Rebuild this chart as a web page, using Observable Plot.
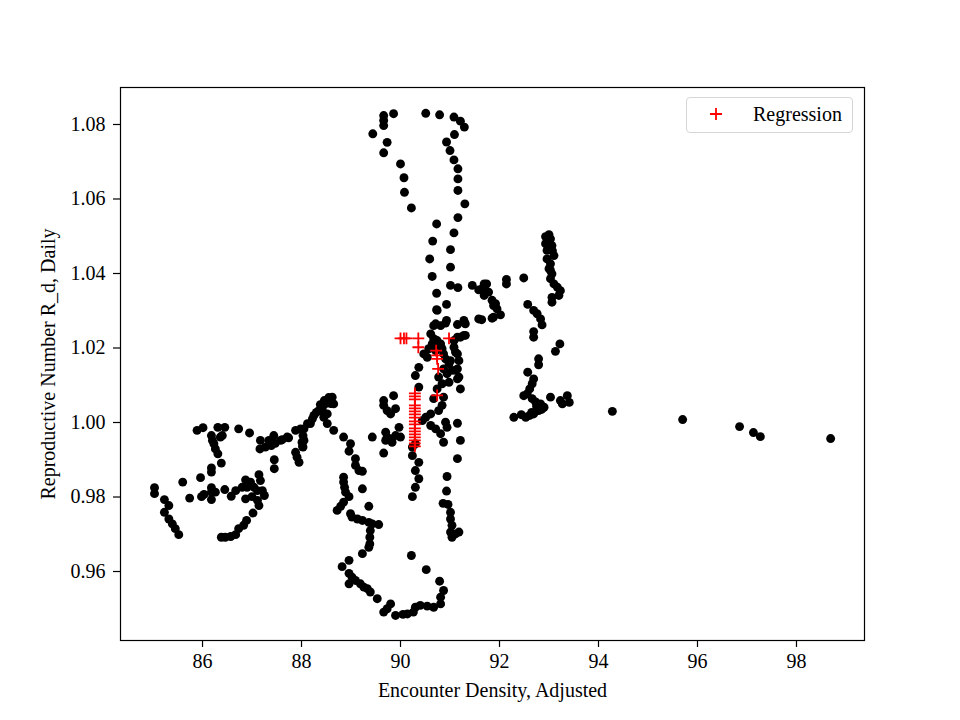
<!DOCTYPE html>
<html>
<head>
<meta charset="utf-8">
<script src="https://cdn.jsdelivr.net/npm/d3@7"></script>
<script src="https://cdn.jsdelivr.net/npm/@observablehq/plot@0.6"></script>
<style>
  html, body { margin: 0; padding: 0; background: #fff; }
  #wrap { position: relative; width: 960px; height: 720px; font-family: "Liberation Serif", "DejaVu Serif", serif; }
  #legend { position: absolute; left: 686px; top: 97px; width: 167px; height: 36px; border: 1px solid #d6d6d6; border-radius: 4px; background: rgba(255,255,255,0.8); box-sizing: border-box; font-size: 20px; color: #000; }
  #legend .lb { position: absolute; left: 66px; top: 3px; line-height: 26px; }
  #legend svg { position: absolute; left: 22px; top: 9px; }
</style>
</head>
<body>
<div id="wrap"><div id="chart"></div>
<div id="legend"><svg width="14" height="14"><path d="M1,7H13M7,1V13" stroke="#ff0000" stroke-width="1.8" fill="none"/></svg><span class="lb">Regression</span></div>
</div>
<script>
const xLabel = "Encounter Density, Adjusted";
const yLabel = "Reproductive Number R_d, Daily";
const xTicks = [86, 88, 90, 92, 94, 96, 98];
const yTicks = [0.96, 0.98, 1.00, 1.02, 1.04, 1.06, 1.08];

// [encounter density, R_d]
const leftLoop = [
  [85.89,0.9979],[86.01,0.9986],[86.31,0.9987],[86.45,0.9987],[86.73,0.9983],[86.95,0.9972],
  [86.18,0.9965],[86.20,0.9952],[86.23,0.9943],[86.26,0.9929],[86.31,0.9916],[86.36,0.9961],[86.40,0.9965],
  [86.38,0.9891],[86.18,0.9878],[86.18,0.9867],[85.96,0.9852],[85.60,0.9840],[85.03,0.9825],[85.03,0.9809],
  [85.23,0.9793],[85.32,0.9777],[85.23,0.9759],[85.32,0.9741],[85.39,0.9728],[85.45,0.9715],[85.52,0.9699],
  [85.74,0.9797],[85.98,0.9801],[86.03,0.9807],[86.18,0.9825],[86.18,0.9813],[86.26,0.9813],[86.18,0.9793],
  [86.45,0.9820],[86.58,0.9802],[86.67,0.9817],[86.87,0.9846],[86.97,0.9840],[87.14,0.9860],[87.17,0.9844],
  [86.80,0.9826],[86.90,0.9826],[87.04,0.9826],[87.11,0.9817],[87.21,0.9817],[87.25,0.9804],[87.00,0.9801],
  [86.87,0.9795],[87.11,0.9791],[87.14,0.9777],[87.02,0.9757],[86.89,0.9737],[86.83,0.9724],[86.73,0.9715],
  [86.67,0.9699],[86.57,0.9694],[86.46,0.9692],[86.38,0.9692],
  [87.44,0.9965],[87.34,0.9952],[87.17,0.9952],[87.16,0.9929],[87.27,0.9934],[87.39,0.9938],[87.47,0.9944],
  [87.58,0.9952],[87.74,0.9959],[87.88,0.9979],[87.98,0.9983],[88.03,0.9965],[88.05,0.9952],[88.02,0.9936],
  [87.88,0.9920],[87.91,0.9907],[87.95,0.9893],[87.45,0.9900],[87.45,0.9876],
  [88.12,0.9997],[88.22,1.0010],[88.25,1.0019],[88.35,1.0032],[88.42,1.0041],[88.48,1.0050],[88.55,1.0059],
  [88.62,1.0068],[88.65,1.0050],[88.52,1.0023],[88.45,1.0014],[88.52,0.9997],[88.65,0.9979],
  [88.38,1.0048],[88.46,1.0059],[88.55,1.0067],[88.59,1.0051],[88.30,1.0027],[88.42,1.0032],
  [88.18,0.9997],[88.05,0.9983],[87.71,0.9961],[87.61,0.9954],[88.01,0.9947],[88.03,0.9934]
];

const centerBottom = [
  [88.85,0.9961],[88.99,0.9943],[88.96,0.9923],[89.09,0.9903],[89.09,0.9885],[89.16,0.9871],[89.23,0.9869],
  [89.23,0.9822],[88.85,0.9853],[88.85,0.9840],[88.87,0.9826],[88.89,0.9813],[88.96,0.9801],[88.85,0.9786],
  [88.79,0.9775],[88.72,0.9764],[89.36,0.9775],[88.99,0.9755],[89.02,0.9746],[89.13,0.9741],[89.23,0.9737],
  [89.36,0.9732],[89.43,0.9728],[89.56,0.9726],[89.39,0.9710],[89.38,0.9692],[89.38,0.9674],[89.36,0.9665],
  [89.23,0.9648],[88.96,0.9630],[88.82,0.9613],[88.96,0.9595],[89.02,0.9585],[89.09,0.9576],[89.19,0.9567],
  [89.26,0.9558],[89.33,0.9554],[89.39,0.9545],[89.53,0.9527],[88.96,0.9567],[89.80,0.9513],[89.73,0.9500],
  [89.66,0.9491],[89.90,0.9482],
  [90.22,0.9643],[90.52,0.9605],[90.79,0.9574],[90.87,0.9549],[90.81,0.9531],[90.81,0.9513],[90.67,0.9504],
  [90.54,0.9507],[90.40,0.9509],[90.30,0.9504],[90.26,0.9491],[90.14,0.9486],[90.05,0.9485],
  [90.30,0.9871],[90.37,0.9849],[90.30,0.9826],[90.24,0.9801],[90.24,0.9934],[90.24,0.9911],
  [90.93,0.9816],[90.86,0.9783],[90.96,0.9780],[91.01,0.9759],[91.01,0.9741],[91.04,0.9724],[91.01,0.9706],
  [91.11,0.9701],[91.18,0.9706],[91.04,0.9692],[90.94,0.9855]
];

const centerTop = [
  [89.66,1.0824],[89.66,1.0811],[89.66,1.0797],[89.86,1.0829],[89.44,1.0775],[89.73,1.0752],[89.66,1.0724],
  [90.00,1.0694],[90.07,1.0657],[90.08,1.0618],[90.22,1.0576],
  [90.51,1.0830],[90.79,1.0826],[91.08,1.0820],[91.21,1.0809],[91.29,1.0793],[91.09,1.0773],[90.93,1.0753],
  [91.00,1.0730],[91.08,1.0705],[91.16,1.0681],[91.16,1.0654],[91.16,1.0623],[91.30,1.0587],[91.16,1.0550],
  [91.08,1.0509],[91.01,1.0464],[91.01,1.0417],[91.01,1.0368],[91.16,1.0362],[91.45,1.0368],[91.58,1.0356],
  [90.73,1.0533],[90.65,1.0487],[90.59,1.0439],[90.64,1.0392],[90.73,1.0347],[90.73,1.0303],[90.93,1.0317],
  [90.93,1.0274],[91.28,1.0274],[91.58,1.0278]
];

const centerCore = [
  [89.86,1.0072],[89.66,1.0059],[89.66,1.0046],[89.73,1.0032],[89.80,1.0023],[89.90,1.0037],
  [89.43,0.9961],[89.70,0.9974],[89.73,0.9961],[89.80,0.9956],[89.90,0.9965],[89.97,0.9987],[89.66,0.9918],
  [90.00,0.9961],[89.83,0.9947],[89.70,0.9952],
  [90.71,1.0265],[90.91,1.0267],[91.15,1.0263],[91.29,1.0269],[91.28,1.0234],[91.15,1.0229],[91.08,1.0220],
  [90.61,1.0238],[90.67,1.0225],[90.64,1.0211],[90.57,1.0198],[90.47,1.0184],[90.54,1.0175],[90.71,1.0193],
  [90.84,1.0198],[90.87,1.0184],[90.91,1.0171],[90.98,1.0158],[90.87,1.0144],[90.94,1.0131],[91.04,1.0140],
  [91.15,1.0144],[91.15,1.0117],[91.11,1.0189],[91.18,1.0166],[91.21,1.0090],[90.98,1.0108],[90.84,1.0104],
  [90.77,1.0122],[90.74,1.0090],[90.87,1.0068],[90.67,1.0064],[90.84,1.0046],[90.77,1.0032],[90.61,1.0023],
  [90.51,1.0014],[90.44,1.0005],[90.61,0.9992],[90.71,0.9983],[90.81,0.9970],[90.87,0.9947],[90.94,0.9987],
  [90.91,1.0001],[91.15,0.9998],[91.21,0.9952],[91.15,0.9903],[90.37,1.0148],[90.30,1.0126],[90.37,1.0095],
  [90.30,0.9943],[90.37,0.9893],
  [90.74,1.0301],[90.67,1.0260],[90.81,1.0260],[90.74,1.0220],[90.81,1.0211],[90.67,1.0202],
  [91.31,1.0265],[91.21,1.0229],[91.31,1.0234],[91.08,1.0202],[91.15,1.0184],[91.01,1.0166],[91.11,1.0140],
  [91.18,1.0122]
];

const rightCluster = [
  [91.65,1.0359],[91.74,1.0372],[91.78,1.0350],[91.85,1.0328],[91.92,1.0319],[91.95,1.0305],[91.88,1.0283],
  [91.64,1.0276],[91.69,1.0372],[91.72,1.0354],[91.69,1.0341],[91.88,1.0314],[92.02,1.0289],[91.85,1.0280],
  [92.14,1.0384],[92.14,1.0372],[92.49,1.0388],
  [93.00,1.0504],[93.03,1.0493],[92.93,1.0480],[93.06,1.0475],[92.96,1.0462],[93.10,1.0448],[92.96,1.0439],
  [93.03,1.0426],[93.00,1.0413],[93.06,1.0399],[93.03,1.0386],[93.10,1.0372],[93.17,1.0363],[93.23,1.0354],
  [93.20,1.0341],[93.06,1.0336],[93.06,1.0323],[92.93,1.0499],[92.99,1.0488],[93.07,1.0461],[93.03,1.0408],
  [92.57,1.0317],[92.69,1.0301],[92.76,1.0292],[92.83,1.0278],[92.86,1.0262],[92.69,1.0244],[92.69,1.0229],
  [93.22,1.0211],[93.13,1.0191],[92.79,1.0171],[92.79,1.0155],[92.57,1.0135],[92.69,1.0117],[92.66,1.0104],
  [92.61,1.0090],[92.56,1.0077],[92.49,1.0072],[92.66,1.0064],[92.73,1.0055],[92.83,1.0050],[92.90,1.0041],
  [92.79,1.0032],[92.69,1.0023],[92.61,1.0019],[92.53,1.0014],[92.29,1.0014],[93.03,1.0068],[93.23,1.0059],
  [93.37,1.0072],[93.27,1.0050],[93.41,1.0054],[92.75,1.0043],[92.85,1.0035],[92.65,1.0027],[92.44,1.0021]
];

const tail = [
  [94.28,1.0030],[95.70,1.0008],[96.85,0.9989],[97.13,0.9973],[97.27,0.9962],[98.69,0.9957]
];

const regressionX = [90.00,90.07,90.12,90.36,90.36,90.72,90.74,90.74,90.76,90.98,90.74,
  90.29,90.29,90.29,90.29,90.29,90.29,90.29,90.29,90.29,90.29,90.29,90.29,90.29,90.29,90.29,90.29,90.29];
const regressionY = [1.0226,1.0226,1.0226,1.0226,1.0202,1.0193,1.0180,1.0171,1.0144,1.0226,1.0073,
  1.0078,1.0070,1.0062,1.0046,1.0038,1.0030,1.0022,1.0013,1.0003,0.9995,0.9984,0.9976,0.9968,0.9960,0.9952,0.9944,0.9936];

const observed = [...leftLoop, ...centerBottom, ...centerTop, ...centerCore, ...rightCluster, ...tail]
  .map(([x, y]) => ({x, y}));
const regression = regressionX.map((x, i) => ({x, y: regressionY[i]}));

const chart = Plot.plot({
  width: 960,
  height: 720,
  marginLeft: 120,
  marginRight: 96,
  marginTop: 87,
  marginBottom: 80,
  style: {fontFamily: "'Liberation Serif', 'DejaVu Serif', serif", fontSize: "20px", color: "#000", background: "#fff"},
  x: {domain: [84.343, 99.374]},
  y: {domain: [0.94148, 1.08993]},
  marks: [
    Plot.dot(observed, {x: "x", y: "y", r: 4.45, fill: "#000", stroke: "none"}),
    Plot.dot(regression, {x: "x", y: "y", symbol: "plus", r: 3.9, stroke: "#ff0000", strokeWidth: 1.8}),
    Plot.frame({stroke: "#000", strokeWidth: 1.2}),
    Plot.axisX({ticks: xTicks, tickSize: 7, tickPadding: 6, strokeWidth: 1.2, tickFormat: d => String(d), label: xLabel, labelAnchor: "center", labelArrow: "none", labelOffset: 56, fontSize: 20}),
    Plot.axisY({ticks: yTicks, tickSize: 7, tickPadding: 8, strokeWidth: 1.2, tickFormat: d3.format(".2f"), label: yLabel, labelAnchor: "center", labelArrow: "none", labelOffset: 80, fontSize: 20})
  ]
});
document.getElementById("chart").appendChild(chart);
</script>
</body>
</html>
